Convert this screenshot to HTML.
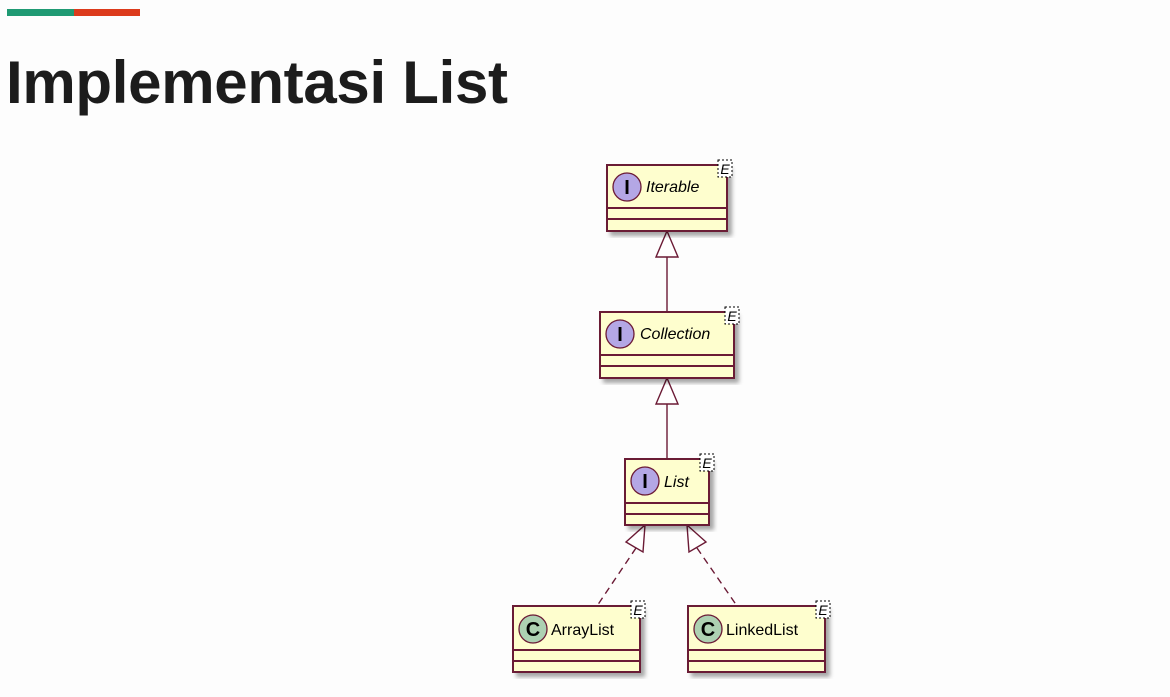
<!DOCTYPE html>
<html><head><style>
body{margin:0;width:1170px;height:697px;background:#fdfdfd;overflow:hidden;font-family:"Liberation Sans",sans-serif}
</style></head><body>
<div style="position:absolute;left:7px;top:9px;width:67px;height:7px;background:#1f9a73"></div>
<div style="position:absolute;left:74px;top:9px;width:66px;height:7px;background:#dc3b1c"></div>
<div style="position:absolute;left:6px;top:48px;font-size:60px;font-weight:bold;color:#1c1c1c;letter-spacing:-0.3px">Implementasi List</div>
<svg width="1170" height="697" style="position:absolute;left:0;top:0" font-family="Liberation Sans, DejaVu Sans, sans-serif">
<defs><filter id="s"><feDropShadow dx="4" dy="4" stdDeviation="2" flood-color="#000" flood-opacity="0.35"/></filter></defs>
<g stroke="#6b1a35" stroke-width="1.4" fill="none">
<line x1="667" y1="257" x2="667" y2="312"/>
<polygon points="667,231 656,257 678,257" fill="#fff"/>
<line x1="667" y1="404" x2="667" y2="459"/>
<polygon points="667,378 656,404 678,404" fill="#fff"/>
<line x1="636" y1="548" x2="597" y2="606" stroke-dasharray="7,5"/>
<polygon points="645,525 626,542 643,552" fill="#fff"/>
<line x1="697" y1="548" x2="737" y2="606" stroke-dasharray="7,5"/>
<polygon points="687,525 689,552 706,542" fill="#fff"/>
</g>
<g stroke="#6b1a35" stroke-width="2">
<rect x="607" y="165" width="120" height="66" fill="#fefece" filter="url(#s)"/>
<line x1="607" y1="208" x2="727" y2="208"/><line x1="607" y1="219" x2="727" y2="219"/>
<rect x="600" y="312" width="134" height="66" fill="#fefece" filter="url(#s)"/>
<line x1="600" y1="355" x2="734" y2="355"/><line x1="600" y1="366" x2="734" y2="366"/>
<rect x="625" y="459" width="84" height="66" fill="#fefece" filter="url(#s)"/>
<line x1="625" y1="503" x2="709" y2="503"/><line x1="625" y1="514" x2="709" y2="514"/>
<rect x="513" y="606" width="127" height="66" fill="#fefece" filter="url(#s)"/>
<line x1="513" y1="650" x2="640" y2="650"/><line x1="513" y1="661" x2="640" y2="661"/>
<rect x="688" y="606" width="137" height="66" fill="#fefece" filter="url(#s)"/>
<line x1="688" y1="650" x2="825" y2="650"/><line x1="688" y1="661" x2="825" y2="661"/>
</g>
<g stroke="#6b1a35" stroke-width="1.3">
<circle cx="627" cy="187" r="14" fill="#b4a7e5"/>
<circle cx="620" cy="334" r="14" fill="#b4a7e5"/>
<circle cx="645" cy="481" r="14" fill="#b4a7e5"/>
<circle cx="533" cy="629" r="14" fill="#add1b2"/>
<circle cx="708" cy="629" r="14" fill="#add1b2"/>
</g>
<g font-weight="bold" font-size="20" text-anchor="middle" fill="#000">
<text x="627" y="194">I</text><text x="620" y="341">I</text><text x="645" y="488">I</text>
<text x="533" y="636">C</text><text x="708" y="636">C</text>
</g>
<g font-size="16" font-style="italic" fill="#000">
<text x="646" y="192">Iterable</text>
<text x="640" y="339">Collection</text>
<text x="664" y="487">List</text>
</g>
<g font-size="16" fill="#000">
<text x="551" y="635">ArrayList</text>
<text x="726" y="635">LinkedList</text>
</g>
<g stroke="#000" stroke-dasharray="2,2" fill="#fff" stroke-width="1">
<rect x="718" y="160" width="14" height="17"/><rect x="725" y="307" width="14" height="17"/>
<rect x="700" y="454" width="14" height="17"/><rect x="631" y="601" width="14" height="17"/>
<rect x="816" y="601" width="14" height="17"/>
</g>
<g font-size="14" font-style="italic" fill="#000" text-anchor="middle">
<text x="725" y="174">E</text><text x="732" y="321">E</text><text x="707" y="468">E</text>
<text x="638" y="615">E</text><text x="823" y="615">E</text>
</g>
</svg>
</body></html>
